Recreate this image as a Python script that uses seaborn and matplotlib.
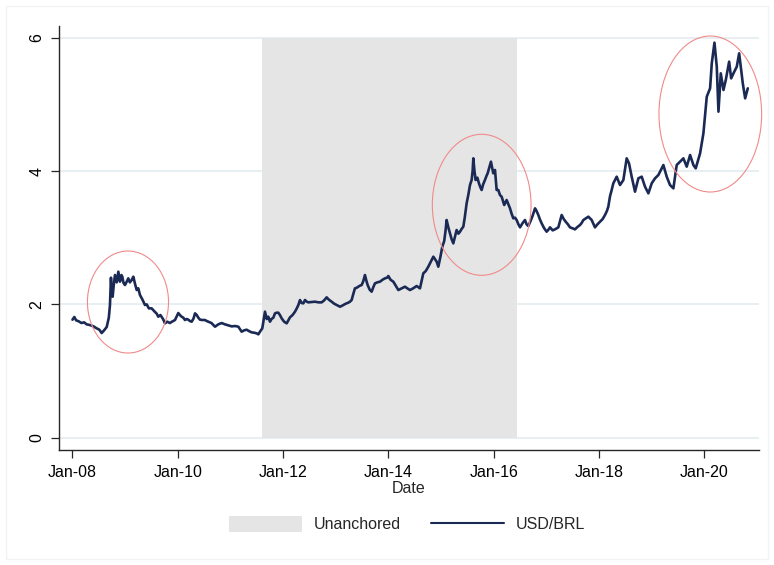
import matplotlib
matplotlib.use("Agg")
import matplotlib.pyplot as plt
import seaborn as sns
import pandas as pd
from matplotlib.patches import Ellipse, Patch, Rectangle
from matplotlib.lines import Line2D

# USD/BRL exchange rate, decimal year vs. rate
year = [
    2008.000, 2008.035, 2008.070, 2008.120, 2008.170, 2008.220, 2008.270, 2008.330, 2008.400, 2008.460,
    2008.510, 2008.555, 2008.600, 2008.650, 2008.690, 2008.712, 2008.731, 2008.745, 2008.763, 2008.785,
    2008.807, 2008.840, 2008.871, 2008.902, 2008.930, 2008.946, 2008.970, 2008.997, 2009.030, 2009.060,
    2009.090, 2009.124, 2009.156, 2009.190, 2009.220, 2009.250, 2009.282, 2009.330, 2009.377, 2009.410,
    2009.450, 2009.504, 2009.550, 2009.600, 2009.630, 2009.670, 2009.720, 2009.757, 2009.800, 2009.850,
    2009.900, 2009.947, 2010.010, 2010.040, 2010.073, 2010.105, 2010.137, 2010.170, 2010.200, 2010.230,
    2010.264, 2010.300, 2010.327, 2010.360, 2010.390, 2010.422, 2010.470, 2010.517, 2010.550, 2010.580,
    2010.640, 2010.707, 2010.770, 2010.833, 2010.896, 2010.960, 2011.023, 2011.090, 2011.150, 2011.213,
    2011.260, 2011.308, 2011.350, 2011.403, 2011.450, 2011.498, 2011.530, 2011.561, 2011.605, 2011.656,
    2011.690, 2011.719, 2011.751, 2011.780, 2011.815, 2011.846, 2011.878, 2011.909, 2011.940, 2011.973,
    2012.020, 2012.068, 2012.100, 2012.131, 2012.180, 2012.226, 2012.260, 2012.290, 2012.321, 2012.353,
    2012.385, 2012.416, 2012.450, 2012.480, 2012.540, 2012.606, 2012.670, 2012.733, 2012.780, 2012.827,
    2012.870, 2012.922, 2012.970, 2013.017, 2013.050, 2013.080, 2013.110, 2013.143, 2013.190, 2013.238,
    2013.270, 2013.302, 2013.335, 2013.365, 2013.400, 2013.428, 2013.460, 2013.492, 2013.520, 2013.555,
    2013.580, 2013.606, 2013.645, 2013.682, 2013.715, 2013.745, 2013.790, 2013.840, 2013.890, 2013.935,
    2013.975, 2013.999, 2014.040, 2014.094, 2014.140, 2014.189, 2014.250, 2014.315, 2014.360, 2014.410,
    2014.470, 2014.537, 2014.600, 2014.630, 2014.663, 2014.710, 2014.758, 2014.800, 2014.854, 2014.917,
    2014.948, 2014.990, 2015.024, 2015.060, 2015.085, 2015.106, 2015.140, 2015.170, 2015.200, 2015.233,
    2015.265, 2015.296, 2015.330, 2015.360, 2015.390, 2015.423, 2015.450, 2015.486, 2015.520, 2015.550,
    2015.581, 2015.600, 2015.613, 2015.635, 2015.657, 2015.690, 2015.720, 2015.745, 2015.771, 2015.800,
    2015.834, 2015.860, 2015.885, 2015.915, 2015.948, 2015.970, 2015.992, 2016.025, 2016.056, 2016.088,
    2016.119, 2016.151, 2016.200, 2016.246, 2016.280, 2016.310, 2016.340, 2016.373, 2016.405, 2016.436,
    2016.470, 2016.500, 2016.550, 2016.594, 2016.625, 2016.658, 2016.708, 2016.740, 2016.785, 2016.815,
    2016.848, 2016.880, 2016.911, 2016.960, 2017.006, 2017.040, 2017.070, 2017.120, 2017.164, 2017.228,
    2017.260, 2017.291, 2017.330, 2017.367, 2017.410, 2017.449, 2017.500, 2017.544, 2017.590, 2017.639,
    2017.670, 2017.703, 2017.750, 2017.798, 2017.830, 2017.861, 2017.924, 2017.970, 2018.019, 2018.070,
    2018.114, 2018.150, 2018.177, 2018.209, 2018.241, 2018.272, 2018.336, 2018.399, 2018.463, 2018.526,
    2018.570, 2018.621, 2018.684, 2018.748, 2018.811, 2018.874, 2018.938, 2019.001, 2019.064, 2019.128,
    2019.223, 2019.286, 2019.349, 2019.413, 2019.476, 2019.540, 2019.603, 2019.666, 2019.730, 2019.793,
    2019.837, 2019.920, 2019.983, 2020.047, 2020.110, 2020.142, 2020.193, 2020.237, 2020.269, 2020.313,
    2020.364, 2020.408, 2020.472, 2020.510, 2020.554, 2020.617, 2020.662, 2020.700, 2020.731, 2020.776,
    2020.826,
]
usd_brl = [
    1.77, 1.81, 1.76, 1.745, 1.72, 1.73, 1.70, 1.69, 1.67, 1.64,
    1.62, 1.57, 1.61, 1.66, 1.80, 1.99, 2.40, 2.16, 2.115, 2.30,
    2.44, 2.33, 2.49, 2.34, 2.44, 2.415, 2.32, 2.29, 2.34, 2.39,
    2.33, 2.365, 2.415, 2.30, 2.215, 2.24, 2.14, 2.07, 1.99, 2.00,
    1.94, 1.94, 1.90, 1.86, 1.815, 1.84, 1.78, 1.715, 1.74, 1.72,
    1.745, 1.765, 1.87, 1.84, 1.815, 1.80, 1.765, 1.78, 1.77, 1.75,
    1.74, 1.79, 1.865, 1.84, 1.80, 1.77, 1.765, 1.765, 1.75, 1.74,
    1.72, 1.665, 1.70, 1.72, 1.70, 1.685, 1.67, 1.675, 1.665, 1.59,
    1.61, 1.62, 1.60, 1.58, 1.575, 1.565, 1.55, 1.59, 1.64, 1.89,
    1.78, 1.815, 1.74, 1.78, 1.80, 1.865, 1.875, 1.875, 1.84, 1.79,
    1.74, 1.715, 1.76, 1.805, 1.84, 1.89, 1.94, 1.99, 2.065, 2.02,
    2.015, 2.065, 2.04, 2.03, 2.035, 2.04, 2.03, 2.03, 2.06, 2.105,
    2.07, 2.04, 2.01, 1.99, 1.975, 1.965, 1.975, 1.99, 2.01, 2.025,
    2.04, 2.065, 2.16, 2.24, 2.25, 2.265, 2.28, 2.29, 2.34, 2.44,
    2.36, 2.29, 2.22, 2.19, 2.26, 2.315, 2.33, 2.34, 2.37, 2.39,
    2.40, 2.425, 2.37, 2.34, 2.28, 2.215, 2.24, 2.265, 2.24, 2.215,
    2.24, 2.275, 2.24, 2.35, 2.465, 2.50, 2.565, 2.63, 2.715, 2.64,
    2.565, 2.72, 2.865, 2.95, 3.10, 3.265, 3.15, 3.065, 2.98, 2.915,
    3.02, 3.115, 3.06, 3.09, 3.13, 3.165, 3.30, 3.515, 3.65, 3.79,
    3.865, 4.00, 4.19, 4.00, 3.865, 3.90, 3.815, 3.76, 3.715, 3.80,
    3.865, 3.92, 3.965, 4.05, 4.14, 4.05, 3.965, 4.015, 3.715, 3.715,
    3.64, 3.615, 3.49, 3.565, 3.50, 3.44, 3.36, 3.29, 3.30, 3.265,
    3.20, 3.155, 3.22, 3.265, 3.20, 3.175, 3.265, 3.33, 3.44, 3.40,
    3.34, 3.27, 3.215, 3.14, 3.09, 3.12, 3.155, 3.11, 3.125, 3.155,
    3.25, 3.34, 3.28, 3.24, 3.20, 3.155, 3.14, 3.125, 3.16, 3.19,
    3.22, 3.265, 3.29, 3.315, 3.29, 3.265, 3.155, 3.20, 3.24, 3.28,
    3.34, 3.40, 3.465, 3.62, 3.715, 3.815, 3.915, 3.79, 3.865, 4.19,
    4.115, 3.915, 3.69, 3.89, 3.915, 3.765, 3.665, 3.815, 3.89, 3.94,
    4.09, 3.915, 3.79, 3.74, 4.09, 4.14, 4.19, 4.065, 4.24, 4.09,
    4.04, 4.265, 4.565, 5.115, 5.24, 5.615, 5.925, 5.565, 4.89, 5.465,
    5.215, 5.365, 5.64, 5.39, 5.465, 5.565, 5.765, 5.515, 5.315, 5.09,
    5.24,
]

# Unanchored expectations regime
unanchored_start = 2011.605
unanchored_end = 2016.45

# Depreciation episodes circled on the chart
episode_year = [2009.054, 2015.772, 2020.114]
episode_level = [2.035, 3.493, 4.855]
episode_width = [1.54, 1.875, 1.95]
episode_height = [1.53, 2.115, 2.34]

tick_years = [2008, 2010, 2012, 2014, 2016, 2018, 2020]
tick_labels = ["Jan-08", "Jan-10", "Jan-12", "Jan-14", "Jan-16", "Jan-18", "Jan-20"]
y_ticks = [0, 2, 4, 6]

NAVY = "#1b2a55"
SHADE = "#e5e5e5"
GRID = "#e6eef1"
AXIS = "#262626"

sns.set_theme(style="white")
plt.rcParams["font.family"] = ["Liberation Sans", "DejaVu Sans"]

df = pd.DataFrame({"Date": year, "USD/BRL": usd_brl})

W, H = 774, 565
fig = plt.figure(figsize=(W / 100, H / 100), dpi=100)
ax = fig.add_axes([59 / W, 115 / H, 700 / W, 424 / H])

for v in y_ticks:
    ax.axhline(v, color=GRID, lw=1.3, zorder=0)

ax.fill_between([unanchored_start, unanchored_end], 0, 6, color=SHADE, lw=0, zorder=1)

sns.lineplot(data=df, x="Date", y="USD/BRL", ax=ax, color=NAVY, lw=1.9,
             sort=False, estimator=None, zorder=3)

for cx, cy, w, h in zip(episode_year, episode_level, episode_width, episode_height):
    ax.add_patch(Ellipse((cx, cy), w, h, fill=False, ec="#f08a8a", lw=0.8,
                         zorder=4, clip_on=False))

ax.set_xlim(2007.744, 2021.039)
ax.set_ylim(-0.1845, 6.175)

ax.set_xticks(tick_years)
ax.set_xticklabels(tick_labels)
ax.set_yticks(y_ticks)
ax.set_yticklabels([str(v) for v in y_ticks], rotation=90, va="center")
ax.tick_params(axis="both", which="both", bottom=True, left=True, direction="out",
               length=5.5, width=0.9, color=AXIS, labelsize=11.5, labelcolor="black")
ax.tick_params(axis="x", pad=5)
ax.tick_params(axis="y", pad=5)

ax.set_xlabel("Date", fontsize=11.5, labelpad=1)
ax.set_ylabel("")

for side in ["top", "right"]:
    ax.spines[side].set_visible(False)
for side in ["left", "bottom"]:
    ax.spines[side].set_color(AXIS)
    ax.spines[side].set_linewidth(1.0)

handles = [Patch(facecolor=SHADE, edgecolor="none"), Line2D([], [], color=NAVY, lw=1.5)]
fig.legend(handles, ["Unanchored", "USD/BRL"], loc="center",
           bbox_to_anchor=(407 / W, 41 / H), ncol=2, frameon=False, fontsize=11.5,
           handlelength=4.56, handleheight=1.19, handletextpad=0.73, columnspacing=1.92)

# faint outer border of the graph region
fig.patches.append(Rectangle((6 / W, 6 / H), 762 / W, 553 / H, transform=fig.transFigure,
                             fill=False, ec="#f1f3f5", lw=1.0))

fig.savefig("out.png", dpi=100)
